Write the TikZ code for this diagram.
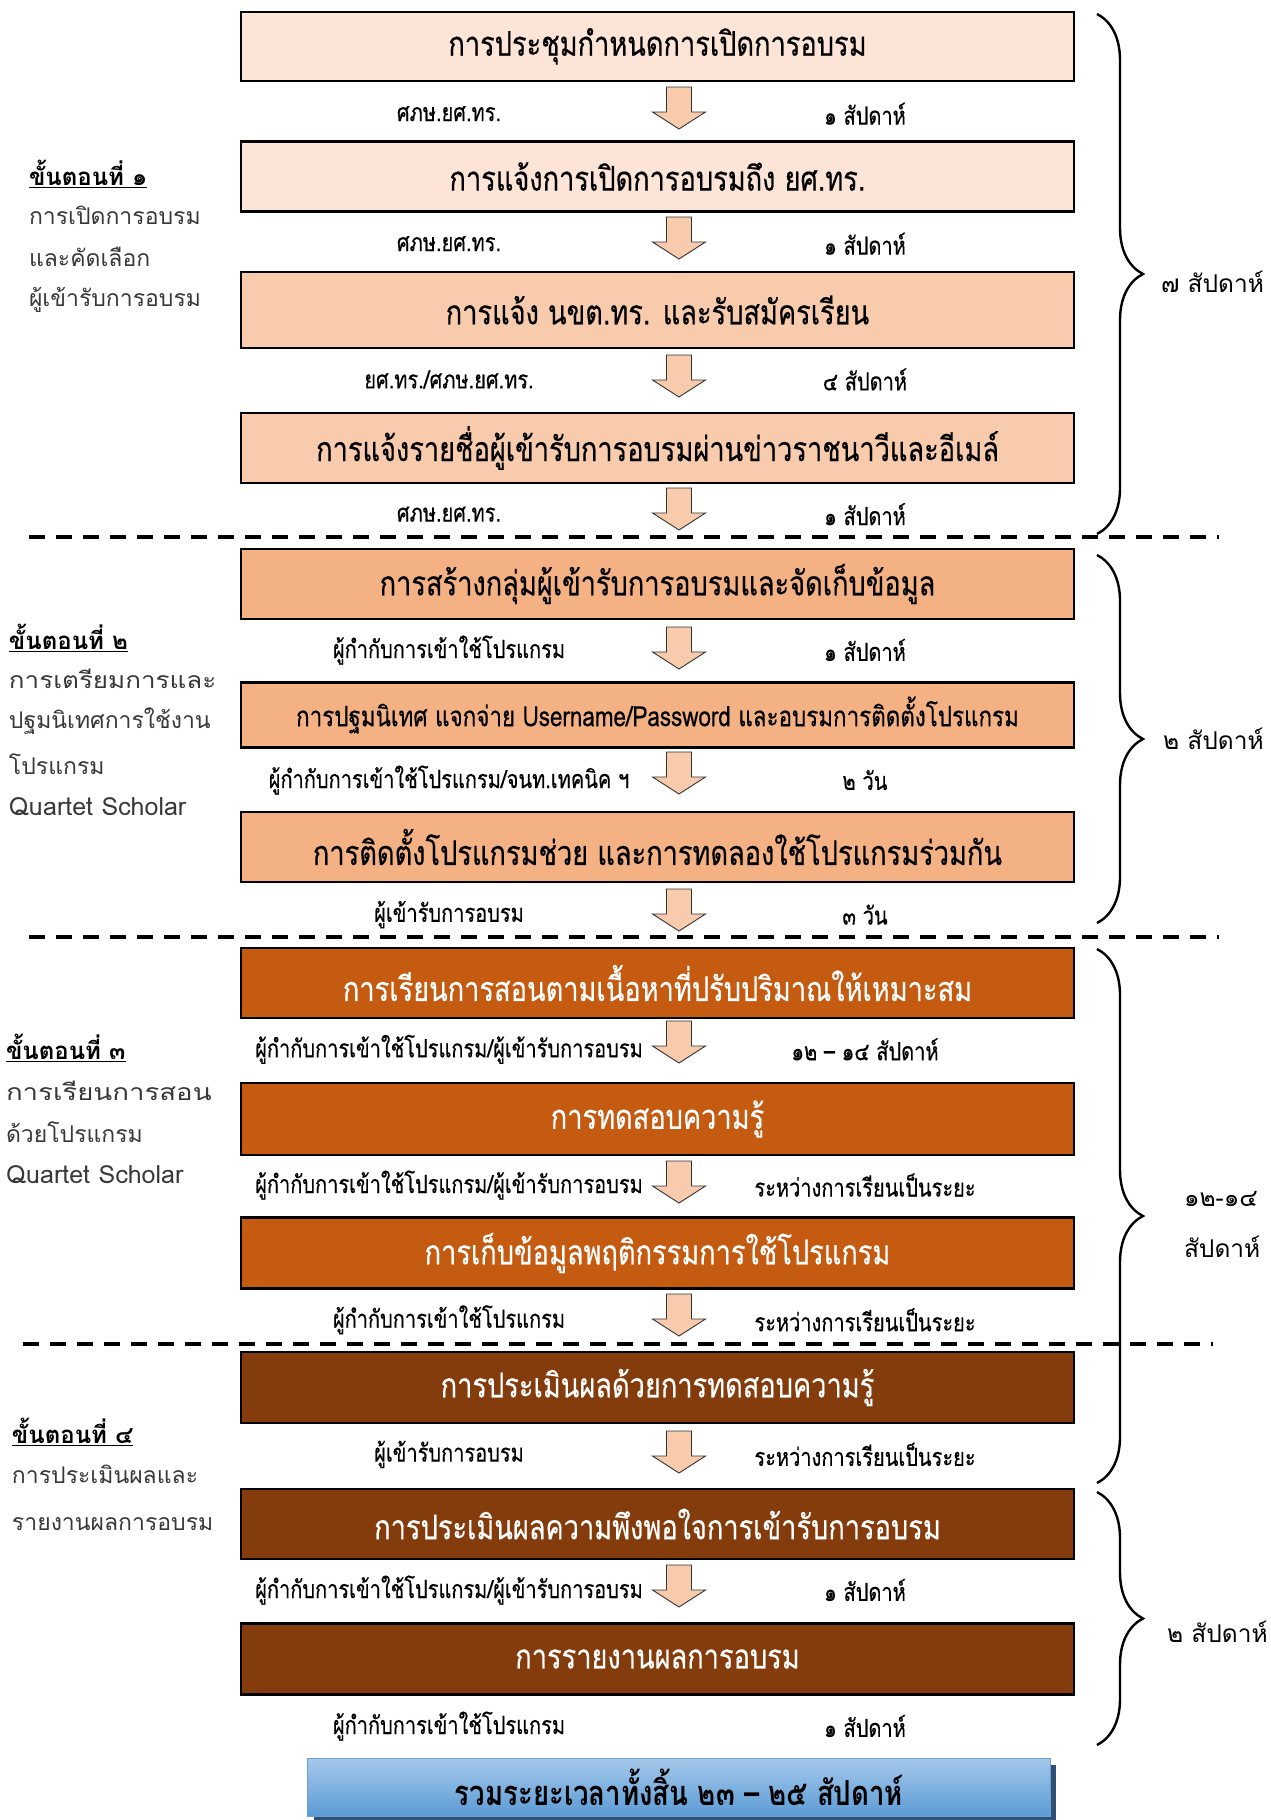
\documentclass[tikz,border=0pt]{standalone}
\usepackage{fontspec}
\usepackage{graphicx}
\newfontfamily\thaibox[Script=Thai,FakeStretch=0.8,UprightFeatures={FakeBold=0.4}]{Loma}
\newfontfamily\thaitot[Script=Thai,FakeStretch=0.8]{Loma}
\newfontfamily\thai[Script=Thai]{Loma}
\usetikzlibrary{calc,decorations.pathreplacing}
\definecolor{peachA}{HTML}{FCE4D6}
\definecolor{peachB}{HTML}{F8CBAD}
\definecolor{orangeC}{HTML}{F4B183}
\definecolor{rust}{HTML}{C55A11}
\definecolor{brownD}{HTML}{843C0C}
\definecolor{blueT}{HTML}{A4C8EA}
\definecolor{blueB}{HTML}{5B9BD5}
\definecolor{blueS}{HTML}{2F4F73}
\definecolor{blueE}{HTML}{6FA0D0}
\tikzset{
  every node/.style={inner sep=0pt, outer sep=0pt},
  stepbox/.style={draw=black, line width=2.2pt, minimum width=833pt, minimum height=70pt,
    font=\thaibox\fontsize{34}{40}\selectfont},
  boxA/.style={stepbox, fill=peachA, text=black},
  boxB/.style={stepbox, fill=peachB, text=black},
  boxC/.style={stepbox, fill=orangeC, text=black},
  boxD/.style={stepbox, fill=rust, text=white},
  boxE/.style={stepbox, fill=brownD, text=white},
  lab/.style={font=\thaibox\fontsize{25}{30}\selectfont, text=black},
  stagehead/.style={anchor=west, font=\thai\bfseries\fontsize{24}{28}\selectfont},
  stageline/.style={anchor=west, font=\thai\fontsize{23}{27}\selectfont, text=black!78},
  latinline/.style={stageline, font=\thai\fontsize{25}{29}\selectfont},
  durlab/.style={anchor=west, font=\thai\fontsize{24.5}{29}\selectfont},
  sep/.style={line width=3.5pt, dash pattern=on 16pt off 11pt},
  bracepath/.style={decorate, decoration={brace, amplitude=46pt}, line width=2.4pt},
  arrowfill/.style={fill=peachB, draw=black!80, line width=0.9pt, line join=miter},
  downarr/.pic={\draw[arrowfill] (-12.5,0) -- (12.5,0) -- (12.5,25) -- (26.5,25) -- (0,42) -- (-26.5,25) -- (-12.5,25) -- cycle;}
}
\begin{document}
\begin{tikzpicture}[x=1pt,y=-1pt]
\useasboundingbox (0,0) rectangle (1271,1820);
% boxes
\node[boxA, minimum height=69pt] (b1) at (657.5,46.3) {การประชุมกำหนดการเปิดการอบรม};
\node[boxA] (b2) at (657.5,176.5) {การแจ้งการเปิดการอบรมถึง ยศ.ทร.};
\node[boxB, minimum height=76pt] (b3) at (657.5,310) {การแจ้ง นขต.ทร. และรับสมัครเรียน};
\node[boxB] (b4) at (657.5,448) {การแจ้งรายชื่อผู้เข้ารับการอบรมผ่านข่าวราชนาวีและอีเมล์};
\node[boxC] (b5) at (657.5,584) {การสร้างกลุ่มผู้เข้ารับการอบรมและจัดเก็บข้อมูล};
\node[boxC, minimum height=65pt, font=\thaibox\fontsize{28}{33}\selectfont] (b6) at (657.5,715) {การปฐมนิเทศ แจกจ่าย Username/Password และอบรมการติดตั้งโปรแกรม};
\node[boxC] (b7) at (657.5,847) {การติดตั้งโปรแกรมช่วย และการทดลองใช้โปรแกรมร่วมกัน};
\node[boxD] (b8) at (657.5,983) {การเรียนการสอนตามเนื้อหาที่ปรับปริมาณให้เหมาะสม};
\node[boxD, minimum height=72pt] (b9) at (657.5,1119) {การทดสอบความรู้};
\node[boxD, minimum height=71pt] (b10) at (657.5,1253) {การเก็บข้อมูลพฤติกรรมการใช้โปรแกรม};
\node[boxE, minimum height=71pt] (b11) at (657.5,1387.5) {การประเมินผลด้วยการทดสอบความรู้};
\node[boxE] (b12) at (657.5,1524) {การประเมินผลความพึงพอใจการเข้ารับการอบรม};
\node[boxE, minimum height=71pt] (b13) at (657.5,1659) {การรายงานผลการอบรม};
% total box with shadow
\fill[blueS] (313.6,1764.5) rectangle (1056.4,1822.5);
\node[draw=blueE, line width=1.5pt, top color=blueT, bottom color=blueB, minimum width=743pt, minimum height=58pt,
  font=\thaitot\bfseries\fontsize{34.5}{40}\selectfont] (tot) at (679,1787.5) {รวมระยะเวลาทั้งสิ้น ๒๓ – ๒๕ สัปดาห์};
% arrows
\foreach \yy [count=\i] in {87,217,355,488,627,752,889,1021,1161,1294,1431,1565}
  \pic (a\i) at (679,\yy) {downarr};
% arrow labels
\node[lab] (la1) at (449,113.7) {ศภษ.ยศ.ทร.};
\node[lab] (lb1) at (865,113.7) {๑ สัปดาห์};
\node[lab] (la2) at (449,243.7) {ศภษ.ยศ.ทร.};
\node[lab] (lb2) at (865,243.7) {๑ สัปดาห์};
\node[lab] (la3) at (449,379.5) {ยศ.ทร./ศภษ.ยศ.ทร.};
\node[lab] (lb3) at (865,379.5) {๔ สัปดาห์};
\node[lab] (la4) at (449,514.2) {ศภษ.ยศ.ทร.};
\node[lab] (lb4) at (865,514.2) {๑ สัปดาห์};
\node[lab] (la5) at (449,650) {ผู้กำกับการเข้าใช้โปรแกรม};
\node[lab] (lb5) at (865,650) {๑ สัปดาห์};
\node[lab] (la6) at (449,780) {ผู้กำกับการเข้าใช้โปรแกรม/จนท.เทคนิค ฯ};
\node[lab] (lb6) at (865,780) {๒ วัน};
\node[lab] (la7) at (449,914.6) {ผู้เข้ารับการอบรม};
\node[lab] (lb7) at (865,914.6) {๓ วัน};
\node[lab] (la8) at (449,1049.3) {ผู้กำกับการเข้าใช้โปรแกรม/ผู้เข้ารับการอบรม};
\node[lab] (lb8) at (865,1049.3) {๑๒ – ๑๔ สัปดาห์};
\node[lab] (la9) at (449,1185) {ผู้กำกับการเข้าใช้โปรแกรม/ผู้เข้ารับการอบรม};
\node[lab] (lb9) at (865,1185) {ระหว่างการเรียนเป็นระยะ};
\node[lab] (la10) at (449,1319.7) {ผู้กำกับการเข้าใช้โปรแกรม};
\node[lab] (lb10) at (865,1319.7) {ระหว่างการเรียนเป็นระยะ};
\node[lab] (la11) at (449,1454.4) {ผู้เข้ารับการอบรม};
\node[lab] (lb11) at (865,1454.4) {ระหว่างการเรียนเป็นระยะ};
\node[lab] (la12) at (449,1590) {ผู้กำกับการเข้าใช้โปรแกรม/ผู้เข้ารับการอบรม};
\node[lab] (lb12) at (865,1590) {๑ สัปดาห์};
\node[lab] (la13) at (449,1726) {ผู้กำกับการเข้าใช้โปรแกรม};
\node[lab] (lb13) at (865,1726) {๑ สัปดาห์};
% dashed separators
\coordinate (d1l) at (29,537); \coordinate (d1r) at (1219,537);
\coordinate (d2l) at (29,937); \coordinate (d2r) at (1219,937);
\coordinate (d3l) at (23,1344); \coordinate (d3r) at (1213,1344);
\draw[sep] (d1l) -- (d1r);
\draw[sep] (d2l) -- (d2r);
\draw[sep] (d3l) -- (d3r);
% braces
\coordinate (r1t) at (1097,14);   \coordinate (r1b) at (1097,534);
\coordinate (r2t) at (1097,555);  \coordinate (r2b) at (1097,923);
\coordinate (r3t) at (1097,949);  \coordinate (r3b) at (1097,1483);
\coordinate (r4t) at (1097,1492); \coordinate (r4b) at (1097,1745);
\draw[bracepath] (r1t) -- (r1b);
\draw[bracepath] (r2t) -- (r2b);
\draw[bracepath] (r3t) -- (r3b);
\draw[bracepath] (r4t) -- (r4b);
\node[durlab] (w1) at (1161,282) {๗ สัปดาห์};
\node[durlab] (w2) at (1163,739) {๒ สัปดาห์};
\node[durlab] (w3a) at (1184,1199) {๑๒-๑๔};
\node[durlab] (w3b) at (1184,1247) {สัปดาห์};
\node[durlab] (w4) at (1167,1632) {๒ สัปดาห์};
% stage labels
\node[stagehead] (s1h) at (29,174) {\underline{ขั้นตอนที่ ๑}};
\node[stageline] (s1a) at (29,215) {การเปิดการอบรม};
\node[stageline] (s1b) at (29,256.5) {และคัดเลือก};
\node[stageline] (s1c) at (29,299.5) {ผู้เข้ารับการอบรม};
\node[stagehead] (s2h) at (9,638) {\underline{ขั้นตอนที่ ๒}};
\node[stageline] (s2a) at (9,679) {\scalebox{1.13}[1]{การเตรียมการและ}};
\node[stageline] (s2b) at (9,721) {ปฐมนิเทศการใช้งาน};
\node[stageline] (s2c) at (9,764) {โปรแกรม};
\node[latinline] (s2d) at (9,807) {Quartet Scholar};
\node[stagehead] (s3h) at (6,1048) {\underline{ขั้นตอนที่ ๓}};
\node[stageline] (s3a) at (6,1091) {\scalebox{1.2}[1]{การเรียนการสอน}};
\node[stageline] (s3b) at (6,1132) {ด้วยโปรแกรม};
\node[latinline] (s3c) at (6,1175) {Quartet Scholar};
\node[stagehead] (s4h) at (12,1432) {\underline{ขั้นตอนที่ ๔}};
\node[stageline] (s4a) at (12,1474) {การประเมินผลและ};
\node[stageline] (s4b) at (12,1524) {รายงานผลการอบรม};
\end{tikzpicture}
\end{document}
